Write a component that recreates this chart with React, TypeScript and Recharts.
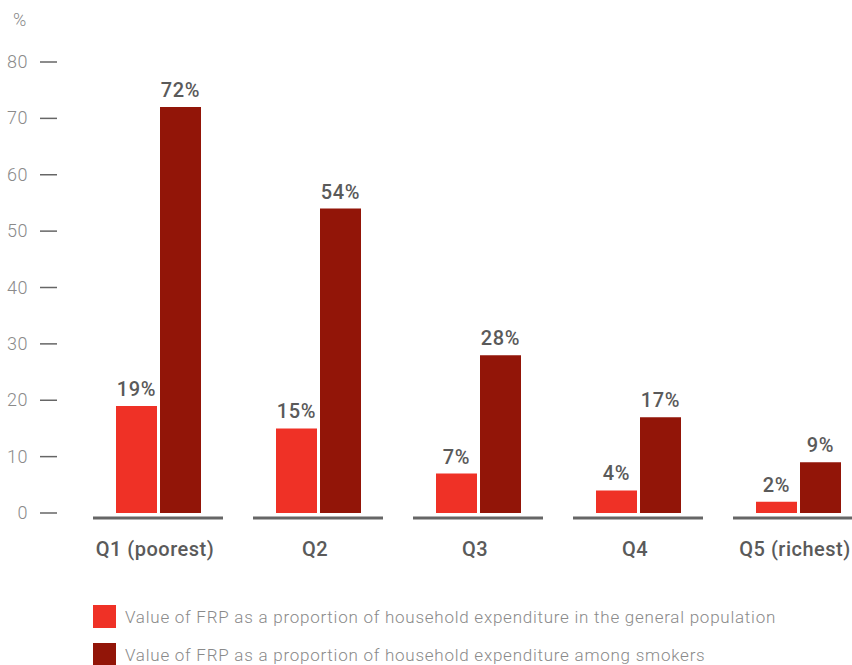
import React from 'react';
import { BarChart, Bar, XAxis, YAxis, LabelList } from 'recharts';

const categories = ['Q1 (poorest)', 'Q2', 'Q3', 'Q4', 'Q5 (richest)'];
const generalPopulation = [19, 15, 7, 4, 2];
const smokers = [72, 54, 28, 17, 9];
const yTicks = [0, 10, 20, 30, 40, 50, 60, 70, 80];

const seriesNames = [
  'Value of FRP as a proportion of household expenditure in the general population',
  'Value of FRP as a proportion of household expenditure among smokers',
];
const LIGHT_RED = '#ef3126';
const DARK_RED = '#921508';
const FONT = 'Roboto, "Noto Sans", sans-serif';

const data = categories.map((name, i) => ({
  name,
  general: generalPopulation[i],
  smokers: smokers[i],
}));

const YTick = (props: any) => {
  const { y, payload } = props;
  return (
    <g>
      <text x={28} y={y} dy={6} textAnchor="end" fill="#8a8a8a" fontSize={18} fontWeight={300} fontFamily={FONT} letterSpacing={0.5}>
        {payload.value}
      </text>
      <line x1={40} x2={57} y1={y} y2={y} stroke="#666" strokeWidth={1.5} />
    </g>
  );
};

const XTick = (props: any) => {
  const { x, y, payload } = props;
  return (
    <g>
      <line x1={x - 65} x2={x + 65} y1={y + 5} y2={y + 5} stroke="#666" strokeWidth={3} />
      <text x={x - 3} y={y + 43} textAnchor="middle" fill="#5a5a5a" fontSize={20} fontWeight={500} fontFamily={FONT} letterSpacing={0.5}>
        {payload.value}
      </text>
    </g>
  );
};

const labelProps = {
  position: 'top' as const,
  offset: 10,
  fill: '#5a5a5a',
  fontSize: 20,
  fontWeight: 500,
  fontFamily: FONT,
  letterSpacing: 0.6,
  formatter: (v: any) => `${v}%`,
};

export default function App() {
  return (
    <div style={{ position: 'absolute', left: 0, top: 0, width: 852, height: 665, overflow: 'hidden', background: '#fff', fontFamily: FONT }}>
      <div style={{ position: 'absolute', left: 13, top: 9, fontSize: 18, fontWeight: 300, color: '#8a8a8a' }}>%</div>
      <BarChart
        width={878}
        height={665}
        data={data}
        margin={{ top: 62, right: 0, bottom: 112, left: 0 }}
        barSize={41}
        barGap={3}
      >
        <YAxis
          width={78}
          domain={[0, 80]}
          ticks={yTicks}
          interval={0}
          axisLine={false}
          tickLine={false}
          tick={<YTick />}
        />
        <XAxis
          dataKey="name"
          height={40}
          axisLine={false}
          tickLine={false}
          tickSize={0}
          tickMargin={0}
          interval={0}
          tick={<XTick />}
        />
        <Bar dataKey="general" fill={LIGHT_RED} isAnimationActive={false}>
          <LabelList dataKey="general" {...labelProps} />
        </Bar>
        <Bar dataKey="smokers" fill={DARK_RED} isAnimationActive={false}>
          <LabelList dataKey="smokers" {...labelProps} />
        </Bar>
      </BarChart>
      {seriesNames.map((label, i) => (
        <div key={label} style={{ position: 'absolute', left: 93, top: 605 + i * 38, display: 'flex', alignItems: 'center' }}>
          <div style={{ width: 23, height: 23, background: i === 0 ? LIGHT_RED : DARK_RED }} />
          <span style={{ marginLeft: 9, fontSize: 17, fontWeight: 300, color: '#8a8a8a', whiteSpace: 'nowrap', letterSpacing: 0.75 }}>{label}</span>
        </div>
      ))}
    </div>
  );
}
